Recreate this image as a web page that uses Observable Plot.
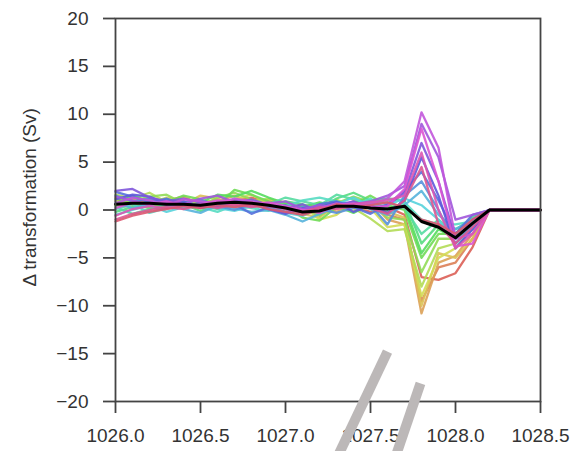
<!DOCTYPE html>
<html><head><meta charset="utf-8">
<script src="https://cdn.jsdelivr.net/npm/d3@7"></script>
<script src="https://cdn.jsdelivr.net/npm/@observablehq/plot@0.6"></script>
<style>body{margin:0;background:#fff;} svg{display:block;}</style>
</head><body><div id="chart"></div>
<script>
const density = [1026.0,1026.1,1026.2,1026.3,1026.4,1026.5,1026.6,1026.7,1026.8,1026.9,1027.0,1027.1,1027.2,1027.3,1027.4,1027.5,1027.6,1027.7,1027.8,1027.9,1028.0,1028.1,1028.2,1028.3,1028.4,1028.5];

const meanTransformation = [0.6,0.7,0.7,0.6,0.6,0.5,0.7,0.8,0.7,0.5,0.2,-0.2,-0.1,0.4,0.4,0.2,0.1,0.4,-1.2,-1.8,-2.9,-1.4,0,0,0,0];

const runs = [
  [0.9,1.1,0.6,0.3,0.8,1.0,0.4,0.9,1.3,0.8,0.1,-0.6,0.2,0.8,0.3,-0.2,0.3,-0.5,-7,-7.3,-6.6,-3.9,0,0,0,0],
  [0.2,0.5,1.2,0.9,0.4,0.7,1.1,0.6,0.3,0.9,0.5,0.1,-0.5,0.2,0.9,0.6,-0.5,-1,-9.5,-6,-5.5,-3,0,0,0,0],
  [1.3,0.8,0.4,1.0,1.4,0.6,0.9,1.5,0.8,0.2,-0.3,0.4,0.6,-0.2,0.5,0.9,-1,-1.5,-10.8,-5.5,-4.8,-2.5,0,0,0,0],
  [0.5,1.2,0.9,0.2,0.6,1.5,1.2,0.7,0.4,1.1,0.8,-0.4,-0.8,0.6,-0.1,0.3,-0.2,-0.8,-10,-4.5,-5,-3,0,0,0,0],
  [1.0,0.3,0.7,1.3,0.9,0.2,0.6,1.1,1.6,0.7,0.3,0.5,-1.0,-0.5,0.8,0.2,-1.8,-1.5,-9,-5,-4,-2,0,0,0,0],
  [1.6,1.2,1.8,0.8,0.5,1.0,0.8,0.3,0.9,1.2,0.6,-0.3,0.4,1.1,0.2,-0.9,-2.2,-2,-8,-4,-3.5,-1.5,0,0,0,0],
  [0.4,0.9,1.4,1.6,0.7,0.3,1.3,1.8,1.1,0.4,-0.2,0.2,-0.6,0.7,1.4,0.8,-0.8,-1,-6.5,-3,-3,-1.2,0,0,0,0],
  [1.2,0.6,0.2,0.8,1.5,1.1,0.5,2.1,1.6,0.9,0.4,-0.8,-1.1,0.3,0.6,1.5,0.5,0,-5,-2.5,-2.5,-0.8,0,0,0,0],
  [0.6,1.5,0.9,0.4,0.2,0.8,1.6,1.4,2.0,1.3,0.7,0.3,0.8,0.4,-0.3,0.6,0.2,0.5,-4.5,-2,-3,-1.5,0,0,0,0],
  [-0.2,0.3,0.8,1.1,0.6,-0.1,0.4,0.9,0.5,0.2,0.9,0.6,0.1,1.2,1.8,1.0,1.2,1,-3.5,-1.5,-2,-1,0,0,0,0],
  [0.3,-0.4,0.1,0.6,0.2,0.5,0.1,0.4,0.9,0.6,1.3,0.9,0.5,1.6,1.1,0.6,0.8,0.2,-2.5,-1,-2.5,-0.8,0,0,0,0],
  [0.1,0.6,-0.3,0.2,0.9,0.3,-0.2,0.5,0.2,-0.1,0.4,1.0,1.3,0.9,0.5,1.2,0,0.8,-1,-1.5,-1.5,-1.2,0,0,0,0],
  [-0.5,0.0,0.5,-0.2,0.3,0.7,0.2,-0.1,0.4,0.3,-0.3,-0.6,0.2,0.6,1.3,0.4,0.5,1.2,0.5,-1,-3.5,-2,0,0,0,0],
  [0.8,0.2,0.6,1.0,0.1,-0.3,0.5,0.2,-0.2,0.0,-0.5,-1.2,-0.4,0.3,0.8,0.1,-0.5,0.5,2,-0.5,-2,-1,0,0,0,0],
  [1.5,0.9,1.2,0.5,0.7,1.1,0.4,0.0,0.6,0.4,-0.2,0.3,0.1,-0.3,0.2,0.5,-1.5,1.5,3,0,-3.5,-1.5,0,0,0,0],
  [1.9,1.4,0.8,1.2,0.6,0.4,0.9,0.6,-0.4,0.3,0.5,-0.2,0.6,0.9,0.3,-0.4,0.6,2,4,1,-2.5,-0.5,0,0,0,0],
  [1.1,1.6,1.4,0.7,0.9,0.2,0.6,1.0,0.7,0.1,-0.4,0.2,0.3,0.8,-0.2,0.5,-0.3,1,5.5,1.5,-4,-2,0,0,0,0],
  [2.0,2.2,1.3,0.9,1.2,0.8,0.3,0.7,1.1,0.5,0.2,0.6,-0.2,0.5,0.9,0.2,0.5,1.8,7,3,-3,-1,0,0,0,0],
  [1.4,1.0,0.5,0.9,0.6,1.2,1.5,0.8,0.4,0.7,0.9,0.1,0.5,0.2,0.6,0.9,1.5,2.5,9,5.5,-1,-0.5,0,0,0,0],
  [0.7,1.3,1.0,0.5,1.1,0.9,0.7,1.2,0.9,0.6,0.3,-0.1,0.2,0.7,0.4,0.6,1.2,3,10.2,6.5,-3,-2.5,0,0,0,0],
  [0.2,0.8,0.6,0.9,0.4,0.6,1.0,0.9,0.6,0.8,0.4,0.0,-0.3,0.5,0.7,0.3,0.4,2.2,8.5,3,-3.8,-3.5,0,0,0,0],
  [-0.6,0.1,0.4,0.2,0.6,0.3,0.8,0.5,0.8,0.4,0.1,-0.3,0.1,0.4,0.6,0.8,1,1.5,6,0,-4,-2.5,0,0,0,0],
  [-1.0,-0.4,0.0,0.3,0.1,0.5,0.2,0.6,0.3,0.5,0.2,-0.2,0.3,0.1,0.4,0.2,-0.4,1,4.5,-1.5,-3.5,-1.8,0,0,0,0],
  [-1.2,-0.6,-0.2,0.1,0.4,0.2,0.5,0.3,0.6,0.1,-0.2,-0.5,0.0,0.6,0.3,0.5,0.8,0.3,-1,-1.5,-2.5,-1,0,0,0,0]
];

const xTicks = [1026.0,1026.5,1027.0,1027.5,1028.0,1028.5];
const yTicks = [-20,-15,-10,-5,0,5,10,15,20];
const yLabel = "Δ transformation (Sv)";

// decorative axis-break slashes (in data units)
const breakMarks = [
  {x1: 1027.60, y1: -14.8, x2: 1027.30, y2: -26},
  {x1: 1027.794, y1: -18.1, x2: 1027.643, y2: -26}
];

const palette = runs.map((_, i) => d3.hsl(((0.01 + i / runs.length) % 1) * 360, 0.65, 0.6).formatHex());
const rows = runs.flatMap((vals, i) => vals.map((v, j) => ({run: i, color: palette[i], density: density[j], value: v})));
const meanRows = meanTransformation.map((v, j) => ({density: density[j], value: v}));

const axisColor = "#444";
const chart = Plot.plot({
  width: 571, height: 451,
  marginLeft: 115, marginRight: 31, marginTop: 18, marginBottom: 50,
  style: {fontFamily: "'Liberation Sans', Arial, sans-serif", fontSize: "19px", color: "#333", background: "#fff"},
  x: {domain: [1026, 1028.5]},
  y: {domain: [-20, 20]},
  marks: [
    Plot.line(rows, {x: "density", y: "value", z: "run", stroke: "color", strokeWidth: 2.3, strokeOpacity: 0.9}),
    Plot.line(meanRows, {x: "density", y: "value", stroke: "black", strokeWidth: 3}),
    Plot.frame({stroke: axisColor, strokeWidth: 1.8}),
    Plot.axisX({ticks: xTicks, tickFormat: d3.format(".1f"), tickSize: 12, tickPadding: 15, stroke: axisColor, strokeWidth: 1.8, fill: "#333", label: null}),
    Plot.axisY({ticks: yTicks, tickSize: 12, tickPadding: 15, stroke: axisColor, strokeWidth: 1.8, fill: "#333", label: null}),
    Plot.text([yLabel], {x: () => 1026, y: () => -8, text: d => d, textAnchor: "start", rotate: -90, dx: -86, fill: "#333", fontSize: 19}),
    Plot.link(breakMarks, {x1: "x1", y1: "y1", x2: "x2", y2: "y2", stroke: "#bcb8b8", strokeWidth: 10, strokeLinecap: "butt"})
  ]
});
document.getElementById("chart").append(chart);
</script>
</body></html>
